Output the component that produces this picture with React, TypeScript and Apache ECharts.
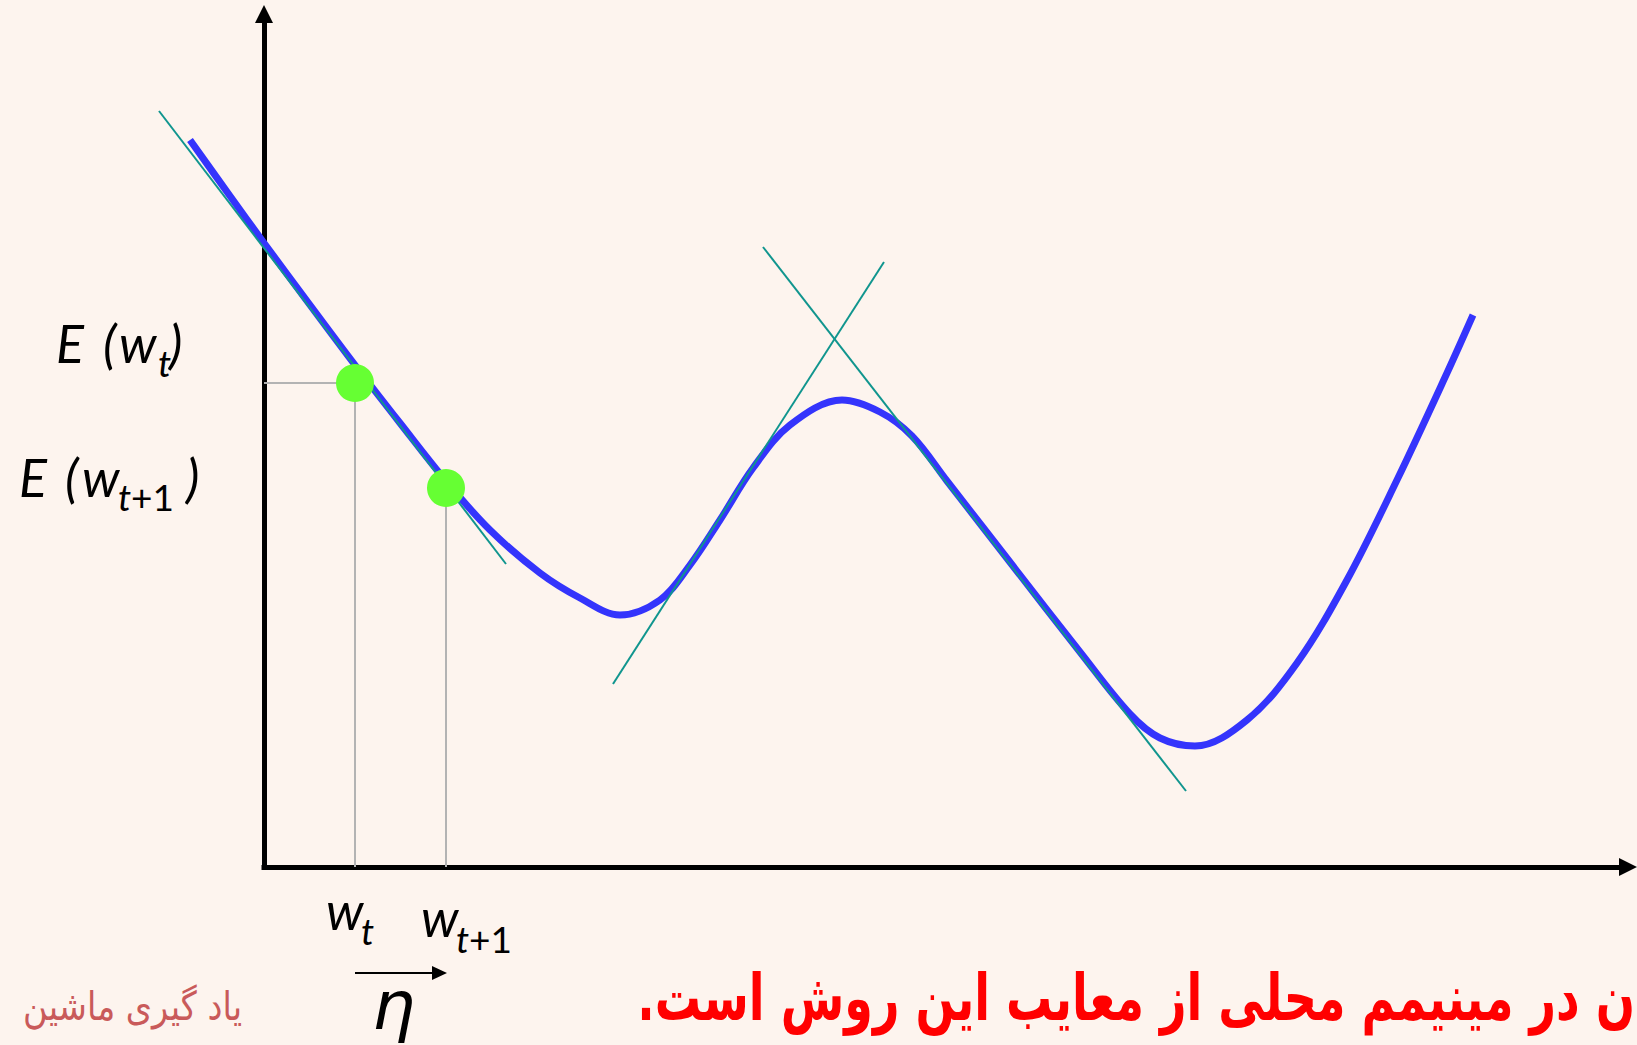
import React, { useEffect, useRef } from "react";
import * as echarts from "echarts";

// Error curve E(w) (x = w, y = E), abstract units
const curveX = [-7.4, -3.4, 0, 4.6, 9.1, 13.6, 18.2, 22.6, 27.6, 31.6, 35.6, 39.6, 42.6, 45.6, 48.9, 52.6, 57.8, 61.6, 64.8, 68.3, 74.9, 81.6, 86.6, 89.6, 93.1, 98.3, 103.3, 108.3, 113.3, 118.3, 120.9];
const curveY = [72.7, 67.1, 62.4, 56.2, 50.2, 44.4, 38.6, 33.7, 29.4, 26.9, 25.2, 26.7, 30.2, 34.7, 39.9, 44.2, 46.7, 45.5, 43.1, 38.6, 30.1, 21.5, 15.3, 12.9, 12.1, 14.7, 20.4, 28.7, 38.7, 49.4, 55.2];

// Tangent lines: [x1, y1, x2, y2]
const tangent1 = [-10.5, 75.6, 24.2, 30.3];
const tangent2 = [34.9, 18.3, 62.0, 60.5];
const tangent3 = [49.9, 62.0, 92.2, 7.6];

// Gradient-descent points w_t and w_{t+1}
const stepX = [9.1, 18.2];
const stepY = [48.4, 37.9];

// Axis extents
const dataXMin = -12;
const xMin = 0;
const xMax = 136.4;
const yMin = 0;
const yMax = 85.3;

const labelE = "E";
const labelW = "w";
const subT = "t";
const subPlus1 = "+1";
const bottomText = "ن در مینیمم محلی از معایب این روش است.\u200F";
const watermark = "یاد گیری ماشین";

const BG = "#fdf4ee";
const LATO = "Lato, 'Open Sans', sans-serif";

function txt(text: string, x: number, baseline: number, size: number, extra: any = {}) {
  const k = extra.k ?? 0.387;
  return {
    type: "text",
    x,
    y: baseline - k * size,
    scaleX: extra.scaleX ?? 1,
    silent: true,
    style: {
      text,
      fontSize: size,
      fontFamily: extra.fontFamily ?? LATO,
      fontStyle: extra.fontStyle ?? "italic",
      fontWeight: extra.fontWeight ?? "normal",
      fill: extra.fill ?? "#000",
      align: extra.align ?? "left",
      verticalAlign: "middle",
    },
  };
}

const hiddenAxis = {
  type: "value",
  axisLine: { show: false },
  axisTick: { show: false },
  axisLabel: { show: false },
  splitLine: { show: false },
};

export default function App() {
  const ref = useRef<HTMLDivElement>(null);
  useEffect(() => {
    const chart = echarts.init(ref.current!, null, { renderer: "svg" });
    const curve = curveX.map((x, i) => [x, curveY[i]]);
    const seg = (t: number[]) => [[t[0], t[1]], [t[2], t[3]]];
    const guide1 = [[0, stepY[0]], [stepX[0], stepY[0]], [stepX[0], 0]];
    const guide2 = [[stepX[1], stepY[1]], [stepX[1], 0]];
    const lineBase = { type: "line", symbol: "none", clip: false, silent: true, xAxisIndex: 0, yAxisIndex: 0 };

    const shownAxisLine = {
      show: true,
      onZero: false,
      symbol: ["none", "triangle"],
      symbolSize: [18, 18],
      lineStyle: { color: "#000", width: 5, cap: "square" },
    };

    const option: any = {
      animation: false,
      backgroundColor: BG,
      grid: [
        { left: 144, top: 14, right: 9, bottom: 178, containLabel: false },
        { left: 264, top: 14, right: 9, bottom: 178, containLabel: false },
      ],
      xAxis: [
        { ...hiddenAxis, gridIndex: 0, min: dataXMin, max: xMax },
        {
          type: "value",
          gridIndex: 1,
          min: xMin,
          max: xMax,
          axisLine: shownAxisLine,
          axisTick: { show: false },
          axisLabel: { show: false },
          splitLine: { show: false },
        },
      ],
      yAxis: [
        { ...hiddenAxis, gridIndex: 0, min: yMin, max: yMax },
        {
          type: "value",
          gridIndex: 1,
          min: yMin,
          max: yMax,
          axisLine: shownAxisLine,
          axisTick: { show: false },
          axisLabel: { show: false },
          splitLine: { show: false },
        },
      ],
      series: [
        { ...lineBase, data: guide1, lineStyle: { color: "#b3b3b3", width: 2 }, z: 2 },
        { ...lineBase, data: guide2, lineStyle: { color: "#b3b3b3", width: 2 }, z: 2 },
        { ...lineBase, data: curve, smooth: 0.35, lineStyle: { color: "#3434fc", width: 7, cap: "butt", join: "round" }, z: 3 },
        { ...lineBase, data: seg(tangent1), lineStyle: { color: "#10958e", width: 2 }, z: 4 },
        { ...lineBase, data: seg(tangent2), lineStyle: { color: "#10958e", width: 2 }, z: 4 },
        { ...lineBase, data: seg(tangent3), lineStyle: { color: "#10958e", width: 2 }, z: 4 },
        {
          type: "scatter",
          xAxisIndex: 0,
          yAxisIndex: 0,
          data: stepX.map((x, i) => [x, stepY[i]]),
          symbol: "circle",
          symbolSize: 38,
          itemStyle: { color: "#66ff33", opacity: 1 },
          clip: false,
          silent: true,
          z: 5,
        },
      ],
      graphic: [
        // E (w_t)
        txt(labelE, 56, 363, 52),
        txt("(", 103, 363, 52),
        txt(labelW, 119, 363, 52),
        txt(subT, 158, 377, 37),
        txt(")", 169, 363, 52),
        // E (w_{t+1})
        txt(labelE, 19, 497, 52),
        txt("(", 65, 497, 52),
        txt(labelW, 82, 497, 52),
        txt(subT, 118, 511, 37),
        txt(subPlus1, 131, 511, 37, { fontStyle: "normal" }),
        txt(")", 186, 497, 52),
        // bottom w_t, w_{t+1}
        txt(labelW, 326, 930, 52),
        txt(subT, 361, 945, 37),
        txt(labelW, 421, 937, 52),
        txt(subT, 456, 953, 37),
        txt(subPlus1, 469, 953, 37, { fontStyle: "normal" }),
        // eta arrow
        { type: "line", silent: true, shape: { x1: 355, y1: 973, x2: 436, y2: 973 }, style: { stroke: "#000", lineWidth: 2 } },
        { type: "polygon", silent: true, shape: { points: [[432, 966], [447, 973], [432, 980]] }, style: { fill: "#000" } },
        txt("η", 372, 1029, 68, { fontFamily: "'DejaVu Sans'", k: 0.346 }),
        // Persian text
        txt(bottomText, 1635, 1020, 64, { fontFamily: "'DejaVu Sans'", fontStyle: "normal", fontWeight: "bold", fill: "#ff0000", align: "right", k: 0.346, scaleX: 0.72 }),
        txt(watermark, 242, 1020, 40, { fontFamily: "'DejaVu Sans'", fontStyle: "normal", fill: "#c95a5a", align: "right", k: 0.346, scaleX: 0.84 }),
      ],
    };
    chart.setOption(option);
    return () => chart.dispose();
  }, []);
  return (
    <div
      ref={ref}
      style={{ position: "fixed", left: 0, top: 0, width: 1637, height: 1045, background: BG }}
    />
  );
}
